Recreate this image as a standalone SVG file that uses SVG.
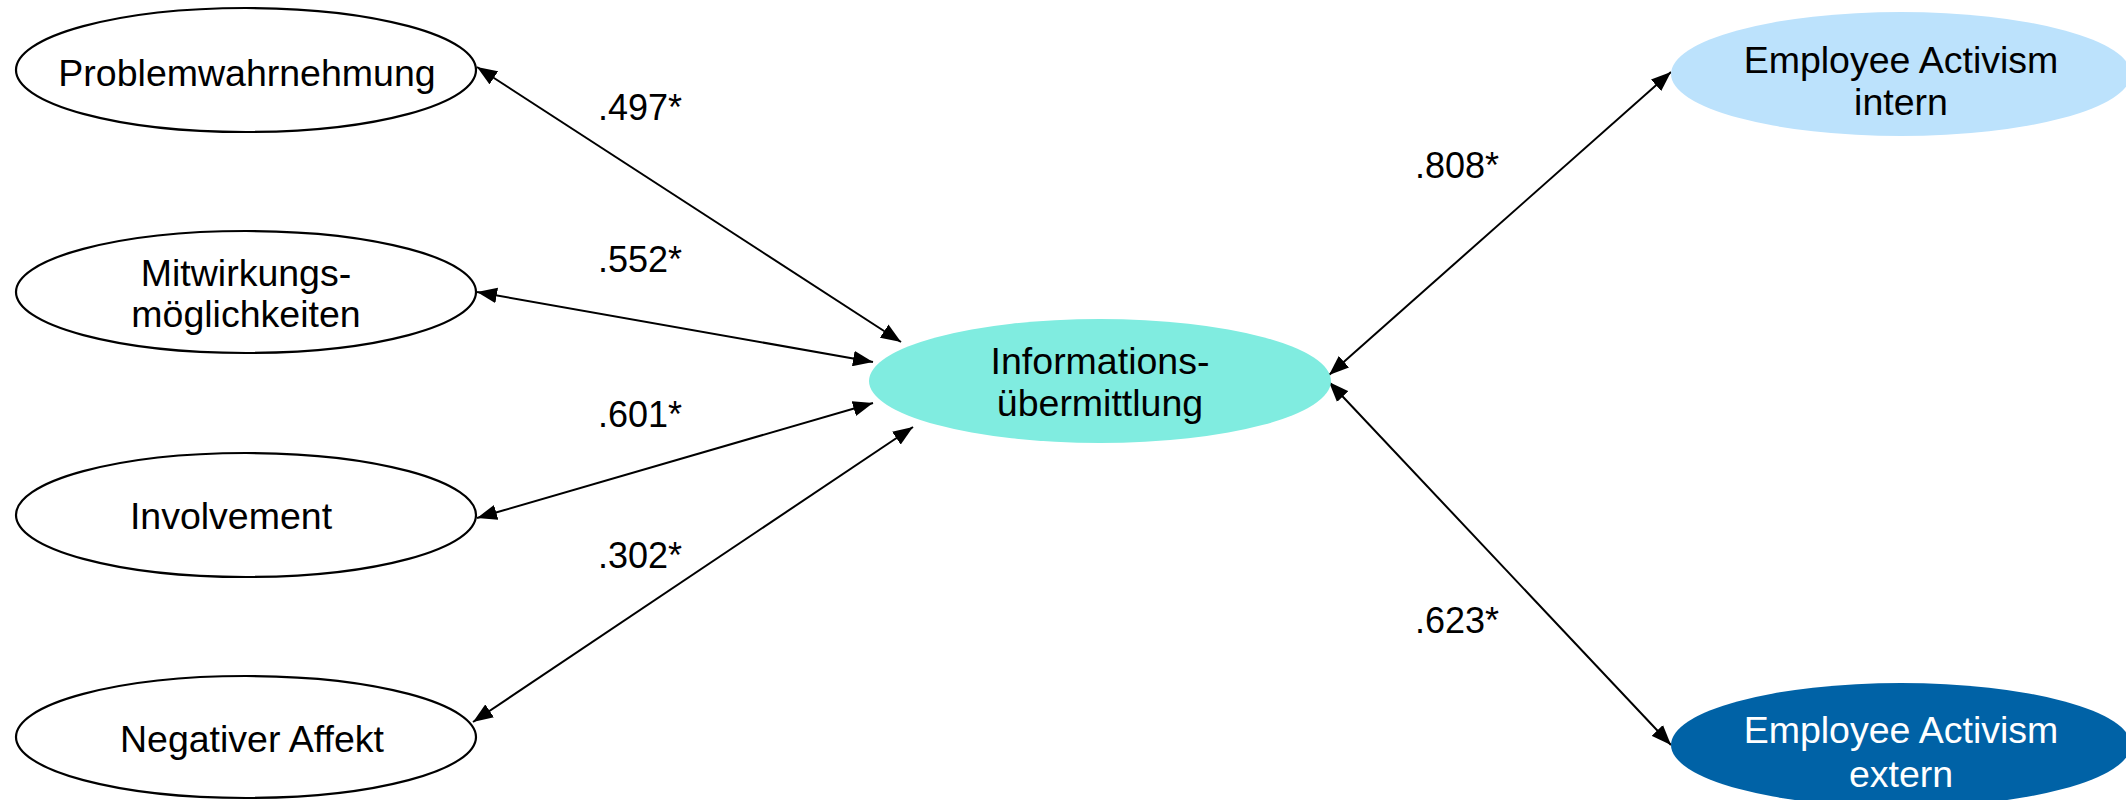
<svg xmlns="http://www.w3.org/2000/svg" width="2126" height="800" viewBox="0 0 2126 800">
<style>
text{font-family:"Liberation Sans",Arial,sans-serif;font-size:37.5px;fill:#000;text-anchor:middle}
.w{fill:#fff;stroke:#000;stroke-width:2.2}
.c{fill:#80ECE0}
.li{fill:#BCE2FC}
.dk{fill:#0062A6}
.wt{fill:#fff}
.lab{text-anchor:start;font-size:36px}
.con line{stroke:#000;stroke-width:2;marker-start:url(#ah);marker-end:url(#ah)}
</style>
<defs>
<marker id="ah" markerUnits="userSpaceOnUse" markerWidth="20" markerHeight="16" refX="18" refY="7" orient="auto-start-reverse" viewBox="0 0 18 14">
<path d="M0,0 L18,7 L0,14 z" fill="#000"/>
</marker>
</defs>
<rect width="2126" height="800" fill="#fff"/>
<g id="connectors" class="con">
<line x1="477" y1="67" x2="901" y2="342"/>
<line x1="477" y1="292" x2="873" y2="362"/>
<line x1="477" y1="518" x2="873" y2="403"/>
<line x1="473" y1="722" x2="913" y2="427"/>
<line x1="1329" y1="375" x2="1671" y2="72"/>
<line x1="1329" y1="382" x2="1671" y2="745"/>
</g>
<g id="labels">
<text class="lab" x="598" y="120">.497*</text>
<text class="lab" x="598" y="272">.552*</text>
<text class="lab" x="598" y="427">.601*</text>
<text class="lab" x="598" y="568">.302*</text>
<text class="lab" x="1415" y="178">.808*</text>
<text class="lab" x="1415" y="633">.623*</text>
</g>
<g id="n-problem">
<ellipse class="w" cx="246" cy="70" rx="230" ry="62"/>
<text x="247" y="86">Problemwahrnehmung</text>
</g>
<g id="n-mitwirkung">
<ellipse class="w" cx="246" cy="292" rx="230" ry="61"/>
<text x="246" y="286">Mitwirkungs-</text>
<text x="246" y="327">möglichkeiten</text>
</g>
<g id="n-involvement">
<ellipse class="w" cx="246" cy="515" rx="230" ry="62"/>
<text x="231" y="529">Involvement</text>
</g>
<g id="n-negativ">
<ellipse class="w" cx="246" cy="737" rx="230" ry="61"/>
<text x="252" y="752">Negativer Affekt</text>
</g>
<g id="n-info">
<ellipse class="c" cx="1100" cy="381" rx="231" ry="62"/>
<text x="1100" y="374">Informations-</text>
<text x="1100" y="416">übermittlung</text>
</g>
<g id="n-intern">
<ellipse class="li" cx="1901" cy="74" rx="230" ry="62"/>
<text x="1901" y="73">Employee Activism</text>
<text x="1901" y="115">intern</text>
</g>
<g id="n-extern">
<ellipse class="dk" cx="1901" cy="745" rx="230" ry="62"/>
<text class="wt" x="1901" y="743">Employee Activism</text>
<text class="wt" x="1901" y="787">extern</text>
</g>
</svg>
